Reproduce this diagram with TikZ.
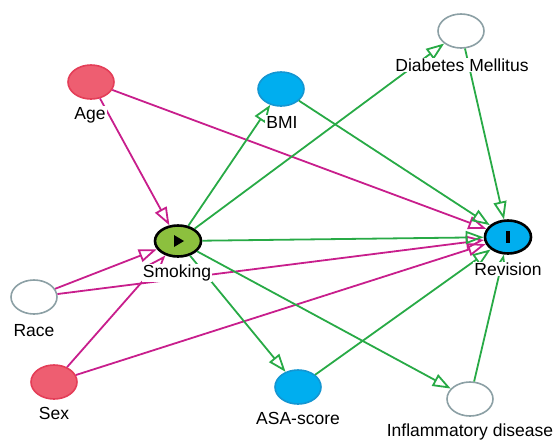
\documentclass[tikz,border=0pt]{standalone}
\usepackage{fontspec}
\setmainfont{Liberation Sans}
\usetikzlibrary{arrows.meta,shapes.geometric}
\definecolor{anc}{RGB}{238,94,113}
\definecolor{ancb}{RGB}{228,62,88}
\definecolor{outc}{RGB}{0,174,239}
\definecolor{outcb}{RGB}{20,150,210}
\definecolor{expo}{RGB}{140,192,62}
\definecolor{grayb}{RGB}{140,160,165}
\definecolor{bias}{RGB}{200,30,140}
\definecolor{caus}{RGB}{40,170,70}
\tikzset{
  var/.style={ellipse, minimum width=46pt, minimum height=34pt, inner sep=0pt, line width=1.6pt},
  ancnode/.style={var, fill=anc, draw=ancb},
  bluenode/.style={var, fill=outc, draw=outcb},
  othernode/.style={var, fill=white, draw=grayb},
  expnode/.style={var, minimum height=31pt, fill=expo, draw=black, line width=2.6pt},
  outnode/.style={var, minimum height=33pt, fill=outc, draw=black, line width=2.6pt},
  lab/.style={fill=white, inner sep=1pt, font=\fontsize{17.5}{19}\selectfont},
  edge/.style={line width=1.8pt, -{Triangle[open, length=18pt, width=13pt]}, shorten >=0pt},
  bedge/.style={edge, draw=bias},
  cedge/.style={edge, draw=caus},
}
\begin{document}
\begin{tikzpicture}[x=1pt, y=-1pt]
\useasboundingbox (0,0) rectangle (554,440);
% nodes
\node[ancnode] (age) at (91,82) {};
\node[bluenode] (bmi) at (281,89) {};
\node[othernode] (dm) at (461,31) {};
\node[expnode] (smk) at (178,241) {};
\node[outnode] (rev) at (508,237) {};
\node[othernode] (race) at (34,297) {};
\node[ancnode] (sex) at (54,382) {};
\node[bluenode] (asa) at (298,387) {};
\node[othernode] (inf) at (470,399) {};
% edges
\draw[bedge] (age) -- (smk);
\draw[bedge] (age) -- (rev);
\draw[bedge] (race) -- (smk);
\draw[bedge] (race) -- (rev);
\draw[bedge] (sex) -- (smk);
\draw[bedge] (sex) -- (rev);
\draw[cedge] (smk) -- (bmi);
\draw[cedge] (smk) -- (dm);
\draw[cedge] (smk) -- (rev);
\draw[cedge] (smk) -- (asa);
\draw[cedge] (smk) -- (inf);
\draw[cedge] (bmi) -- (rev);
\draw[cedge] (dm) -- (rev);
\draw[cedge] (asa) -- (rev);
\draw[cedge] (inf) -- (rev);
% symbols
\fill[black] ([xshift=-4pt,yshift=6pt]smk.center) -- ([xshift=-4pt,yshift=-6pt]smk.center) -- ([xshift=6pt]smk.center) -- cycle;
\fill[black] ([xshift=-2pt,yshift=6pt]rev.center) rectangle ([xshift=2pt,yshift=-6pt]rev.center);
% labels
\node[lab] (ageL) at (90,115) {Age};
\node[lab] (bmiL) at (282,122) {BMI};
\node[lab] (dmL) at (462,65) {Diabetes Mellitus};
\node[lab] (smkL) at (177,273) {Smoking};
\node[lab] (revL) at (508,269) {Revision};
\node[lab] (raceL) at (34,331) {Race};
\node[lab] (sexL) at (54,413) {Sex};
\node[lab] (asaL) at (298,418) {ASA-score};
\node[lab] (infL) at (470,432) {Inflammatory disease};
\end{tikzpicture}
\end{document}
